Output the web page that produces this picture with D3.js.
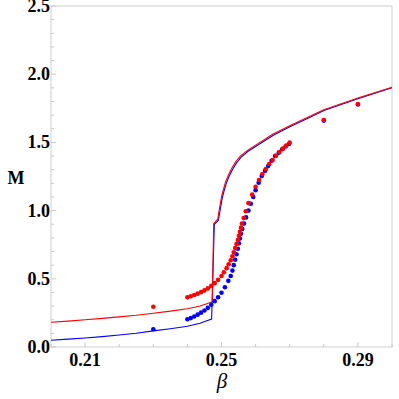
<!DOCTYPE html>
<html>
<head>
<meta charset="utf-8">
<script src="https://cdn.jsdelivr.net/npm/d3@7"></script>
<style>
  body { margin: 0; background: #fff; }
  svg text { font-family: "Liberation Serif", "DejaVu Serif", serif; }
</style>
</head>
<body>
<svg id="chart"></svg>
<script>
const WIDTH = 399;
const HEIGHT = 399;

// Lines (beta, M).
const redLine = [
  [0.200, 0.181], [0.205, 0.190], [0.210, 0.200], [0.215, 0.210], [0.220, 0.221],
  [0.225, 0.233], [0.230, 0.248], [0.235, 0.263], [0.240, 0.281], [0.2437, 0.300],
  [0.2455, 0.315], [0.2473, 0.332],
  [0.2477, 0.905], [0.2489, 0.936], [0.2493, 1.0], [0.2500, 1.10], [0.2505, 1.15],
  [0.2512, 1.21], [0.2520, 1.26], [0.2530, 1.31], [0.2542, 1.36], [0.2555, 1.40],
  [0.2575, 1.44], [0.2600, 1.48], [0.2650, 1.56], [0.2700, 1.622],
  [0.2750, 1.68], [0.2800, 1.74], [0.2900, 1.826], [0.3000, 1.905]
];
const blueLine = [
  [0.200, 0.049], [0.205, 0.058], [0.210, 0.066], [0.215, 0.076], [0.220, 0.088],
  [0.225, 0.101], [0.230, 0.118], [0.235, 0.134], [0.240, 0.152], [0.2437, 0.174],
  [0.2455, 0.190], [0.2471, 0.205],
  [0.2479, 0.90], [0.2491, 0.93], [0.2495, 0.99], [0.2502, 1.09], [0.2507, 1.14],
  [0.2514, 1.20], [0.2522, 1.25], [0.2532, 1.30], [0.2544, 1.35], [0.2557, 1.39],
  [0.2577, 1.433], [0.2602, 1.473], [0.2652, 1.553], [0.2702, 1.616],
  [0.2752, 1.675], [0.2802, 1.735], [0.2902, 1.822], [0.3000, 1.900]
];

// Dots (beta, M).
const redBeta = [0.230, 0.240, 0.241, 0.242, 0.243, 0.244, 0.245, 0.246, 0.247, 0.248, 0.249, 0.250,
  0.2507, 0.2515, 0.2521, 0.2527, 0.2532, 0.2536, 0.2540, 0.2544, 0.2548, 0.2551, 0.2554,
  0.2557, 0.2560, 0.2565, 0.2571, 0.2579, 0.2590, 0.2600, 0.2610, 0.2620, 0.2630, 0.2640,
  0.2650, 0.2660, 0.2670, 0.2680, 0.2690, 0.2700, 0.280, 0.290];
const redM = [0.295, 0.364, 0.372, 0.381, 0.391, 0.402, 0.415, 0.430, 0.448, 0.468, 0.492, 0.520,
  0.548, 0.578, 0.607, 0.636, 0.665, 0.695, 0.725, 0.755, 0.785, 0.815, 0.845,
  0.875, 0.905, 0.945, 0.995, 1.055, 1.117, 1.175, 1.224, 1.268, 1.305, 1.342,
  1.371, 1.403, 1.430, 1.454, 1.476, 1.498, 1.664, 1.782];

const blueBeta = [0.230, 0.240, 0.241, 0.242, 0.243, 0.244, 0.245, 0.246, 0.247, 0.248, 0.249, 0.250,
  0.251, 0.252, 0.2527, 0.2532, 0.2536, 0.2540, 0.2544, 0.2548, 0.2551, 0.2554, 0.2557,
  0.2561, 0.2566, 0.2572, 0.2579, 0.2586, 0.2593, 0.2600, 0.2609, 0.2618, 0.2628, 0.2637,
  0.2647, 0.2657, 0.2668, 0.2678, 0.2688, 0.2698, 0.280, 0.290];
const blueM = [0.130, 0.203, 0.212, 0.224, 0.237, 0.252, 0.268, 0.287, 0.310, 0.336, 0.365, 0.398,
  0.438, 0.485, 0.52, 0.56, 0.60, 0.64, 0.68, 0.72, 0.76, 0.795, 0.83,
  0.865, 0.905, 0.95, 1.0, 1.05, 1.10, 1.15, 1.205, 1.254, 1.293, 1.327,
  1.366, 1.40, 1.425, 1.450, 1.470, 1.488, 1.660, 1.778];

const xTicks = [0.21, 0.25, 0.29];
const yTicks = [0, 0.5, 1.0, 1.5, 2.0, 2.5];

const margin = {left: 51, right: 7, top: 6, bottom: 52};

const svg = d3.select('#chart')
  .attr('width', WIDTH)
  .attr('height', HEIGHT);

const x = d3.scaleLinear().domain([0.2, 0.3]).range([margin.left, WIDTH - margin.right]);
const y = d3.scaleLinear().domain([0, 2.5]).range([HEIGHT - margin.bottom, margin.top]);

// Frame.
svg.append('rect')
  .attr('x', x(0.2))
  .attr('y', y(2.5))
  .attr('width', x(0.3) - x(0.2))
  .attr('height', y(0) - y(2.5))
  .attr('fill', 'none')
  .attr('stroke', '#cfcfcf')
  .attr('stroke-width', 1);

// Minor ticks, drawn inward.
const yMinor = d3.range(0, 2.5001, 0.1);
svg.append('g')
  .selectAll('line')
  .data(yMinor)
  .join('line')
  .attr('x1', x(0.2))
  .attr('x2', (d) => x(0.2) + (Math.abs(d * 2 - Math.round(d * 2)) < 1e-6 ? 5 : 3))
  .attr('y1', (d) => y(d))
  .attr('y2', (d) => y(d))
  .attr('stroke', '#c8c8c8');

const xMinor = d3.range(0.2, 0.3001, 0.01);
svg.append('g')
  .selectAll('line')
  .data(xMinor)
  .join('line')
  .attr('x1', (d) => x(d))
  .attr('x2', (d) => x(d))
  .attr('y1', y(0))
  .attr('y2', (d) => y(0) - (xTicks.some((t) => Math.abs(t - d) < 1e-6) ? 5 : 3))
  .attr('stroke', '#c8c8c8');

// Tick labels.
svg.append('g')
  .selectAll('text')
  .data(yTicks)
  .join('text')
  .attr('x', x(0.2) - 1)
  .attr('y', (d) => y(d) + 6)
  .attr('text-anchor', 'end')
  .attr('font-size', 18)
  .attr('font-weight', 'bold')
  .text((d) => d3.format('.1f')(d));

svg.append('g')
  .selectAll('text')
  .data(xTicks)
  .join('text')
  .attr('x', (d) => x(d))
  .attr('y', 366)
  .attr('text-anchor', 'middle')
  .attr('font-size', 18)
  .attr('font-weight', 'bold')
  .text((d) => d3.format('.2f')(d));

// Axis labels.
svg.append('text')
  .attr('x', 16)
  .attr('y', 183.5)
  .attr('text-anchor', 'middle')
  .attr('font-size', 18)
  .attr('font-weight', 'bold')
  .text('M');

svg.append('text')
  .attr('x', 222)
  .attr('y', 388)
  .attr('text-anchor', 'middle')
  .attr('font-size', 21)
  .attr('font-style', 'italic')
  .text('β');

// Curves.
const line = d3.line().x((d) => x(d[0])).y((d) => y(d[1]));

svg.append('path')
  .datum(blueLine)
  .attr('d', line)
  .attr('fill', 'none')
  .attr('stroke', '#0000ff')
  .attr('stroke-width', 1.1);

svg.append('path')
  .datum(redLine)
  .attr('d', line)
  .attr('fill', 'none')
  .attr('stroke', '#ff0000')
  .attr('stroke-width', 1.1);

// Dots, blue under red.
svg.append('g')
  .selectAll('circle')
  .data(d3.zip(blueBeta, blueM))
  .join('circle')
  .attr('cx', (d) => x(d[0]))
  .attr('cy', (d) => y(d[1]))
  .attr('r', 2.3)
  .attr('fill', '#0000ff');

svg.append('g')
  .selectAll('circle')
  .data(d3.zip(redBeta, redM))
  .join('circle')
  .attr('cx', (d) => x(d[0]))
  .attr('cy', (d) => y(d[1]))
  .attr('r', 2.3)
  .attr('fill', '#ff0000');
</script>
</body>
</html>
